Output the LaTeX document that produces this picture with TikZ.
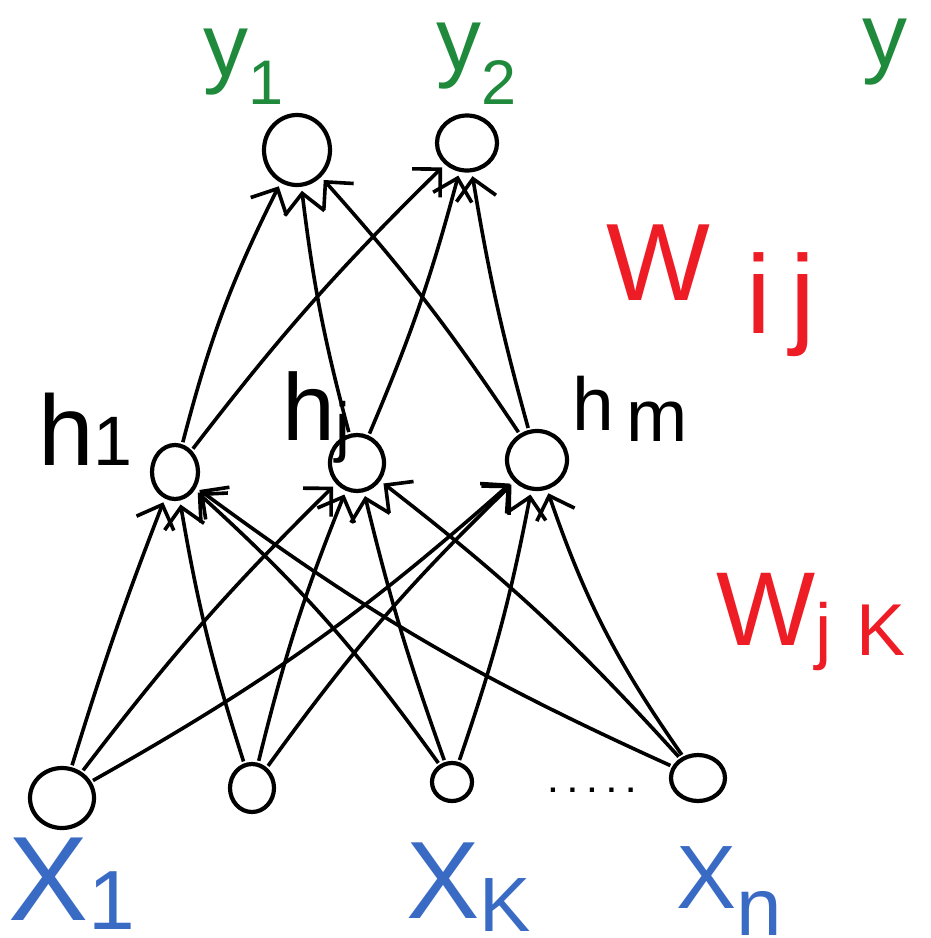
\documentclass[tikz,border=0pt]{standalone}
\usepackage{fontspec}
\setmainfont{Liberation Sans}
\usetikzlibrary{arrows.meta,shapes.geometric}
\definecolor{OutGreen}{HTML}{1F8A3B}
\definecolor{WeightRed}{HTML}{EE1C25}
\definecolor{InBlue}{HTML}{3A6BC4}
\newcommand{\lowidx}[2][.4em]{\raisebox{-#1}{\scalebox{.7}{#2}}}
\tikzset{
  unit/.style  = {draw, ellipse, line width=4.2pt, inner sep=0pt},
  link/.style  = {-{Straight Barb[length=20pt,width=40pt]}, line width=3.6pt,
                  shorten >=4pt, shorten <=2pt},
  lbl/.style   = {anchor=base west, inner sep=0pt, font=\fontsize{#1}{#1}\selectfont},
  outlbl/.style = {lbl=#1, text=OutGreen},
  inlbl/.style  = {lbl=#1, text=InBlue},
  wlbl/.style   = {lbl=#1, text=WeightRed},
}

\begin{document}
\begin{tikzpicture}[x=1pt, y=-1pt]
  \useasboundingbox (0,0) rectangle (930,938);

  % output layer
  \node[unit, minimum width=66pt, minimum height=70pt] (y1) at (297,150) {};
  \node[unit, minimum width=60pt, minimum height=55pt] (y2) at (467,143) {};

  % hidden layer
  \node[unit, minimum width=46pt, minimum height=54pt] (h1) at (175,472) {};
  \node[unit, minimum width=54pt, minimum height=56pt] (hj) at (357,463) {};
  \node[unit, minimum width=60pt, minimum height=58pt] (hm) at (537,460) {};

  % input layer
  \node[unit, minimum width=64pt, minimum height=60pt] (x1) at (62,798) {};
  \node[unit, minimum width=44pt, minimum height=48pt] (x2) at (252,788) {};
  \node[unit, minimum width=40pt, minimum height=38pt] (xk) at (452,782) {};
  \node[unit, minimum width=54pt, minimum height=46pt] (xn) at (698,778) {};
  \node[font=\fontsize{30}{30}\bfseries] (dots) at (592,790) {. . . . .};

  % hidden -> output
  \draw[link] (h1) to[bend left=6]  (y1);
  \draw[link] (h1) to[bend left=4]  (y2);
  \draw[link] (hj) to[bend left=4]  (y1);
  \draw[link] (hj) to[bend right=4] (y2);
  \draw[link] (hm) to[bend right=4] (y1);
  \draw[link] (hm) to[bend left=3]  (y2);

  % input -> hidden
  \draw[link] (x1) to[bend left=2]  (h1);
  \draw[link] (x1) to[bend left=4]  (hj);
  \draw[link] (x1) to[bend right=6] (hm);
  \draw[link] (x2) to[bend left=4]  (h1);
  \draw[link] (x2) to[bend left=4]  (hj);
  \draw[link] (x2) to[bend left=5]  (hm);
  \draw[link] (xk) to[bend right=6] (h1);
  \draw[link] (xk) to[bend left=3]  (hj);
  \draw[link] (xk) to[bend right=4] (hm);
  \draw[link] (xn) to[bend left=6]  (h1);
  \draw[link] (xn) to[bend right=5] (hj);
  \draw[link] (xn) to[bend left=8]  (hm);

  % labels
  \node[outlbl=90, text height=.6em]  (ly1) at (203,76)  {y\lowidx[.32em]{1}};
  \node[outlbl=90, text height=.6em]  (ly2) at (436,70)  {y\lowidx[.38em]{2}};
  \node[outlbl=90, text height=.55em] (ly)  at (862,66)  {y};
  \node[lbl=100]    (lh1) at (38,465)  {h\lowidx[0em]{1}};
  \node[lbl=95]     (lhj) at (282,440) {h\lowidx[.1em]{j}};
  \node[lbl=75]     (lhm) at (572,430) {h\,\lowidx[.15em]{\scalebox{1.4}{m}}};
  \node[wlbl=110]   (lwij) at (606,300) {W\,\,\lowidx[.3em]{\scalebox{1.45}{i\,j}}};
  \node[wlbl=105]   (lwjk) at (716,645) {W\lowidx[.1em]{j\,\,K}};
  \node[inlbl=120, text depth=.08em] (lx1) at (8,920)   {X\lowidx[.08em]{1}};
  \node[inlbl=110, text depth=.1em]  (lxk) at (406,918) {X\lowidx[.12em]{K}};
  \node[inlbl=90, text depth=.2em]   (lxn) at (676,908) {X\lowidx[.3em]{\scalebox{1.3}{n}}};
\end{tikzpicture}
\end{document}
